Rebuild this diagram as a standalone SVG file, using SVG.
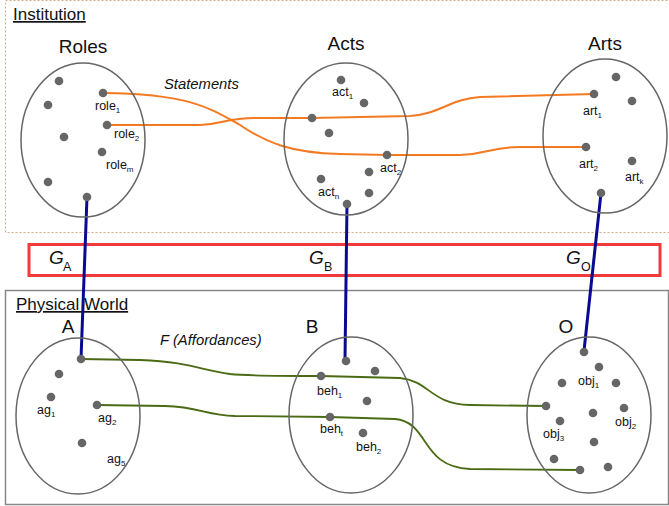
<svg xmlns="http://www.w3.org/2000/svg" width="669" height="506" viewBox="0 0 669 506">
<style>
text{font-family:"Liberation Sans",Arial,sans-serif;fill:#111}
.title{font-size:19px;text-anchor:middle}
.sec{font-size:17px;text-decoration:underline}
.lbl{font-size:12.5px}
.sub{font-size:8px}
.it{font-style:italic;font-size:14.8px}
.set{fill:none;stroke:#666;stroke-width:1.5}
.dot{fill:#666}
.orange{fill:none;stroke:#f47a22;stroke-width:2}
.green{fill:none;stroke:#4a6b14;stroke-width:1.8}
.blue{fill:none;stroke:#0a0a90;stroke-width:3}
</style>
<rect x="5.5" y="0.5" width="700" height="232" fill="none" stroke="#dba688" stroke-width="1" stroke-dasharray="2,2"/>
<text class="sec" x="13" y="20">Institution</text>
<rect x="5.5" y="290.5" width="663" height="214" fill="none" stroke="#888" stroke-width="1.5"/>
<text class="sec" x="16" y="310">Physical World</text>
<rect x="29" y="244.5" width="631" height="31" fill="none" stroke="#f33a3a" stroke-width="3"/>
<g id="GA"><text x="49" y="264" style="font-size:19px;font-style:italic">G</text><text class="lbl" x="63" y="271">A</text></g>
<g id="GB"><text x="309" y="264" style="font-size:19px;font-style:italic">G</text><text class="lbl" x="324" y="271">B</text></g>
<g id="GO"><text x="566" y="264" style="font-size:19px;font-style:italic">G</text><text class="lbl" x="581" y="271">O</text></g>
<text class="it" x="164" y="89">Statements</text>
<text class="it" x="160" y="345">F (Affordances)</text>
<g id="connectors">
<path class="orange" d="M103,93 C190,94 210,108 240,125 C265,142 290,153 340,154 L387,155 L460,155 C490,154 490,147 520,147 L586,147"/>
<path class="orange" d="M107,125 L200,125 C225,124 225,118 255,118 L312,118 L410,116 C440,114 450,99 480,97 L594,94"/>
<path class="green" d="M81,359 L140,360 C190,362 200,370 230,374 C250,376 270,376 321,376 L400,378 C430,381 430,404 470,405 L546,406"/>
<path class="green" d="M97,405 L165,406 C200,407 205,415 235,416 L330,417 L395,419 C430,422 420,467 470,469 L580,470"/>
<line class="blue" x1="87" y1="197" x2="81" y2="359"/>
<line class="blue" x1="347" y1="204" x2="345" y2="360"/>
<line class="blue" x1="601" y1="193" x2="584" y2="351"/>
</g>
<g id="Roles">
<text class="title" x="83" y="53">Roles</text>
<ellipse class="set" cx="83" cy="140" rx="62" ry="77"/>
<circle class="dot" cx="59" cy="81" r="4.3"/><circle class="dot" cx="48" cy="105" r="4.3"/><circle class="dot" cx="64" cy="137" r="4.3"/><circle class="dot" cx="48" cy="182" r="4.3"/><circle class="dot" cx="103" cy="93" r="4.3"/><circle class="dot" cx="107" cy="125" r="4.3"/><circle class="dot" cx="102" cy="152" r="4.3"/><circle class="dot" cx="87" cy="197" r="4.3"/>
<text class="lbl" x="95" y="110">role<tspan class="sub" dy="3">1</tspan></text>
<text class="lbl" x="114" y="138">role<tspan class="sub" dy="3">2</tspan></text>
<text class="lbl" x="106" y="169">role<tspan class="sub" dy="3">m</tspan></text>
</g>
<g id="Acts">
<text class="title" x="346" y="50">Acts</text>
<ellipse class="set" cx="346" cy="139" rx="62" ry="76"/>
<circle class="dot" cx="341" cy="80" r="4.3"/><circle class="dot" cx="364" cy="103" r="4.3"/><circle class="dot" cx="312" cy="118" r="4.3"/><circle class="dot" cx="329" cy="133" r="4.3"/><circle class="dot" cx="387" cy="155" r="4.3"/><circle class="dot" cx="369" cy="172" r="4.3"/><circle class="dot" cx="321" cy="179" r="4.3"/><circle class="dot" cx="369" cy="193" r="4.3"/><circle class="dot" cx="347" cy="204" r="4.3"/>
<text class="lbl" x="332" y="96">act<tspan class="sub" dy="3">1</tspan></text>
<text class="lbl" x="380" y="172">act<tspan class="sub" dy="3">2</tspan></text>
<text class="lbl" x="318" y="196">act<tspan class="sub" dy="3">n</tspan></text>
</g>
<g id="Arts">
<text class="title" x="605" y="50">Arts</text>
<ellipse class="set" cx="605" cy="136" rx="62" ry="77"/>
<circle class="dot" cx="616" cy="77" r="4.3"/><circle class="dot" cx="632" cy="101" r="4.3"/><circle class="dot" cx="594" cy="94" r="4.3"/><circle class="dot" cx="586" cy="147" r="4.3"/><circle class="dot" cx="632" cy="161" r="4.3"/><circle class="dot" cx="601" cy="193" r="4.3"/>
<text class="lbl" x="583" y="115">art<tspan class="sub" dy="3">1</tspan></text>
<text class="lbl" x="579" y="168">art<tspan class="sub" dy="3">2</tspan></text>
<text class="lbl" x="625" y="181">art<tspan class="sub" dy="3">k</tspan></text>
</g>
<g id="A">
<text class="title" x="68" y="333">A</text>
<ellipse class="set" cx="78" cy="416" rx="62" ry="78"/>
<circle class="dot" cx="81" cy="359" r="4.3"/><circle class="dot" cx="59" cy="374" r="4.3"/><circle class="dot" cx="51" cy="397" r="4.3"/><circle class="dot" cx="97" cy="405" r="4.3"/><circle class="dot" cx="82" cy="443" r="4.3"/>
<text class="lbl" x="37" y="414">ag<tspan class="sub" dy="3">1</tspan></text>
<text class="lbl" x="98" y="422">ag<tspan class="sub" dy="3">2</tspan></text>
<text class="lbl" x="107" y="463">ag<tspan class="sub" dy="3">5</tspan></text>
</g>
<g id="B">
<text class="title" x="312" y="333">B</text>
<ellipse class="set" cx="351" cy="415" rx="62" ry="78"/>
<circle class="dot" cx="346" cy="361" r="4.3"/><circle class="dot" cx="375" cy="371" r="4.3"/><circle class="dot" cx="321" cy="376" r="4.3"/><circle class="dot" cx="367" cy="401" r="4.3"/><circle class="dot" cx="330" cy="417" r="4.3"/><circle class="dot" cx="363" cy="433" r="4.3"/>
<text class="lbl" x="317" y="395">beh<tspan class="sub" dy="3">1</tspan></text>
<text class="lbl" x="320" y="433">beh<tspan class="sub" dy="3">t</tspan></text>
<text class="lbl" x="356" y="451">beh<tspan class="sub" dy="3">2</tspan></text>
</g>
<g id="O">
<text class="title" x="566" y="333">O</text>
<ellipse class="set" cx="589" cy="415" rx="62" ry="78"/>
<circle class="dot" cx="584" cy="352" r="4.3"/><circle class="dot" cx="599" cy="367" r="4.3"/><circle class="dot" cx="562" cy="383" r="4.3"/><circle class="dot" cx="616" cy="383" r="4.3"/><circle class="dot" cx="546" cy="406" r="4.3"/><circle class="dot" cx="593" cy="413" r="4.3"/><circle class="dot" cx="624" cy="408" r="4.3"/><circle class="dot" cx="560" cy="421" r="4.3"/><circle class="dot" cx="594" cy="442" r="4.3"/><circle class="dot" cx="554" cy="459" r="4.3"/><circle class="dot" cx="580" cy="470" r="4.3"/><circle class="dot" cx="608" cy="467" r="4.3"/>
<text class="lbl" x="578" y="385">obj<tspan class="sub" dy="3">1</tspan></text>
<text class="lbl" x="615" y="426">obj<tspan class="sub" dy="3">2</tspan></text>
<text class="lbl" x="543" y="438">obj<tspan class="sub" dy="3">3</tspan></text>
</g>
</svg>
